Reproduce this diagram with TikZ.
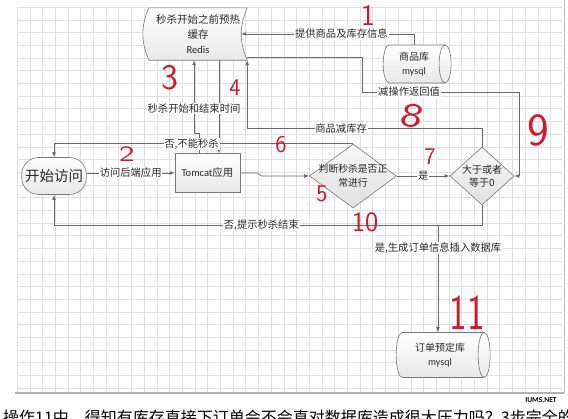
\documentclass[tikz,border=0pt]{standalone}
\usepackage{fontspec}
\setmainfont{Noto Sans CJK SC}
\newfontfamily\latinfont{Carlito}
\usetikzlibrary{shapes.geometric, arrows.meta, positioning, backgrounds}
\definecolor{edgegray}{RGB}{105,105,105}
\definecolor{gridgray}{RGB}{224,224,224}
\definecolor{shapegray}{RGB}{120,120,120}
\definecolor{penred}{RGB}{212,24,44}
\definecolor{textgray}{RGB}{40,40,40}

\begin{document}
\begin{tikzpicture}[
  x=1pt, y=-1pt,
  every node/.style={text=textgray},
  shapebase/.style={draw=shapegray, line width=0.6pt, top color=white, bottom color=black!9},
  store/.style={
    rectangle, minimum width=98pt, minimum height=52pt,
    inner sep=0pt, align=center, font=\fontsize{10.5}{15}\selectfont
  },
  db/.style={
    cylinder, shapebase, aspect=0.5, inner sep=0pt,
    align=center, font=\fontsize{10}{14}\selectfont
  },
  proc/.style={
    rectangle, shapebase, minimum width=65pt, minimum height=39pt,
    font=\fontsize{10.5}{13}\selectfont
  },
  term/.style={
    rectangle, rounded corners=17pt, shapebase,
    minimum width=64pt, minimum height=37pt, font=\fontsize{14.5}{16}\selectfont
  },
  decision/.style={
    diamond, draw=shapegray, line width=0.6pt,
    top color=black!3, bottom color=black!12, inner sep=0pt
  },
  inside/.style={align=center, font=\fontsize{9.8}{14}\selectfont, text=textgray},
  arrow/.style={-{Latex[length=5pt, width=3.6pt]}, draw=edgegray, line width=0.6pt},
  link/.style={draw=edgegray, line width=0.6pt},
  lbl/.style={fill=white, inner sep=0.8pt, font=\fontsize{10.3}{12}\selectfont},
  redno/.style={text=penred, inner sep=0pt, font=\sffamily\fontsize{#1}{#1}\selectfont},
  redno/.default=24
]
  \useasboundingbox (0,0) rectangle (568,418);

  % Grid paper
  \begin{scope}[on background layer]
    \fill[white] (0,0) rectangle (568,418);
    \draw[gridgray, line width=0.4pt, shift={(17,7)}] (0,386) grid[step=12.7pt] (545,0);
    \draw[black!30, line width=1.2pt] (15,393) -- (564,393);
    \draw[black!25, line width=0.8pt] (564,0) -- (564,393);
  \end{scope}

  % Nodes
  \node[store] (redis) at (198,34) {秒杀开始之前预热\\缓存\\{\latinfont Redis}};
  \begin{scope}[on background layer]
    \draw[shapebase] (redis.north west) -- (redis.north east) to[bend right=23] (redis.south east)
      -- (redis.south west) to[bend left=23] (redis.north west);
  \end{scope}
  \node[db, minimum width=38pt, minimum height=68pt] (goods) at (414,64) {商品库\\{\latinfont mysql}};
  \node[db, minimum width=45pt, minimum height=94pt] (order) at (440,355) {订单预定库\\{\latinfont mysql}};
  \node[term] (start) at (54,176) {开始访问};
  \node[proc] (tomcat) at (207.5,173) {{\latinfont Tomcat}应用};
  \node[decision, minimum width=87pt, minimum height=64pt,
    label={[inside]center:判断秒杀是否正\\常进行}] (judge) at (353,176) {};
  \node[decision, minimum width=64pt, minimum height=58pt,
    label={[inside, font=\fontsize{10}{13}\selectfont]center:大于或者\\等于0}] (check) at (482,176) {};
  \coordinate (split) at ([xshift=-44pt, yshift=-20pt]check.south);

  % Connectors
  \draw[arrow] (goods.north) |- node[lbl, pos=0.71] {提供商品及库存信息} ([xshift=-6pt]redis.east);
  \draw[arrow] ([yshift=3pt]redis.south east) -| (362,92)
    -- node[lbl, pos=0.3] {减操作返回值} (519,92) |- (check.east);
  \draw[arrow] (check.north) |- node[lbl, pos=0.8] {商品减库存} ([yshift=-68pt]redis.south east)
    -- (redis.south east);
  \draw[arrow] ([xshift=11.5pt]tomcat.north |- redis.south) -- ([xshift=11.5pt]tomcat.north);
  \draw[arrow] ([xshift=-8.5pt]tomcat.north) -- ++(0,-20)
    -| node[lbl, pos=0.67] {秒杀开始和结束时间} ([xshift=-4pt]redis.south);
  \draw[arrow] (judge.north) -| node[lbl, pos=0.27] {否,不能秒杀} (start.north);
  \draw[arrow] (start.east |- tomcat.west) -- node[lbl] {访问后端应用} (tomcat.west);
  \draw[arrow] (tomcat.east) -- ++(17,0) -- ++(4,3) -- (judge.west);
  \draw[arrow] (judge.east) -- node[lbl] {是} (check.west);
  \draw[link] (check.south) |- (split);
  \draw[arrow] (split) -| node[lbl, pos=0.23] {否,提示秒杀结束} (start.south);
  \draw[arrow] (split) -- node[lbl, pos=0.21] {是,生成订单信息插入数据库} (split |- order.north);

  % Hand-written step numbers
  \node[redno=30] (n1) at (368,15) {1};
  \node[redno=22, xscale=1.5] (n2) at (127,154) {2};
  \node[redno=36] (n3) at (170,78) {3};
  \node[redno] (n4) at (235,88) {4};
  \node[redno] (n5) at (322,194) {5};
  \node[redno] (n6) at (281,145) {6};
  \node[redno] (n7) at (430,157) {7};
  \node[redno=34, xscale=1.4, rotate=-10] (n8) at (412,116) {8};
  \node[redno=46] (n9) at (538,130) {9};
  \node[redno=28] (n10) at (365,222) {10};
  \node[redno=50, xscale=0.75] (n11) at (467,313) {11};

  % Cut-off caption below the sheet
  \begin{scope}
    \clip (0,395) rectangle (568,418);
    \node[anchor=base west, inner sep=0pt, font=\fontsize{16}{16}\selectfont, text=black] (caption)
      at (3,423) {操作11中，得知有库存直接下订单会不会直对数据库造成很大压力吗？3步完全的};
  \end{scope}
  \node[font=\latinfont\bfseries\fontsize{7.5}{8}\selectfont, text=black] (watermark) at (541,400) {IUMS.NET};
\end{tikzpicture}
\end{document}
